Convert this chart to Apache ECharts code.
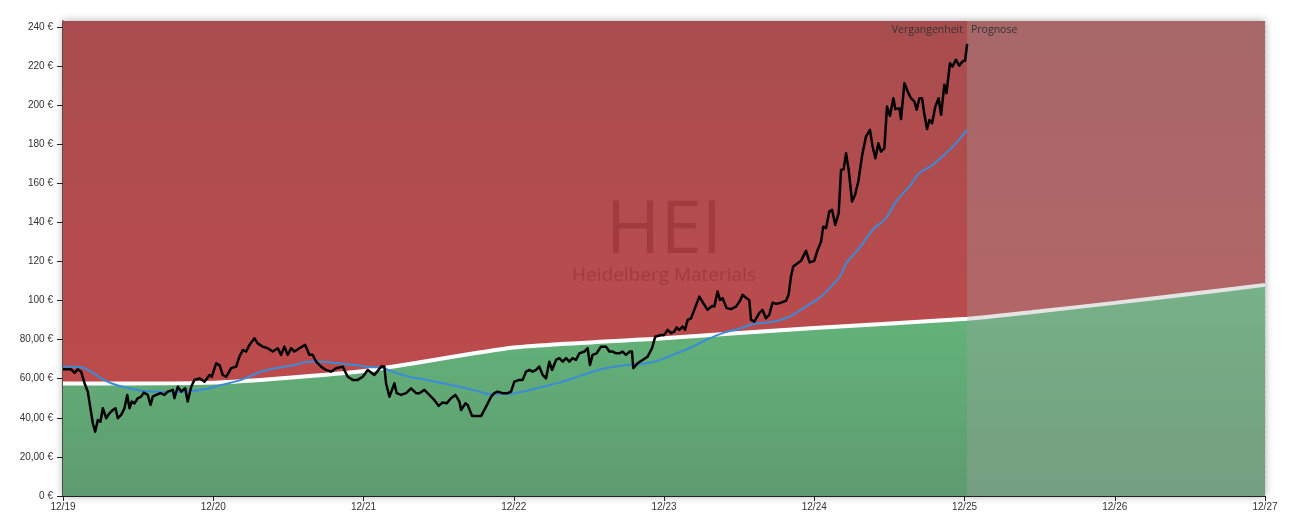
<!DOCTYPE html>
<html>
<head>
<meta charset="utf-8">
<script src="https://cdn.jsdelivr.net/npm/echarts@6/dist/echarts.min.js"></script>
<style>html,body{margin:0;padding:0;background:#fff}#c{width:1294px;height:520px}</style>
</head>
<body>
<div id="c"></div>
<script>
// x values: months since 12/19
var xTickLabels = ['12/19','12/20','12/21','12/22','12/23','12/24','12/25','12/26','12/27'];
var yTickLabels = ['0 €','20,00 €','40,00 €','60,00 €','80,00 €','100 €','120 €','140 €','160 €','180 €','200 €','220 €','240 €'];
var yMax = 243;
var forecastStart = 72.2;
var xMax = 96;

var price = [
[0,64.8],[0.65,64.8],[0.92,63],[1.18,64.8],[1.45,63.6],[1.72,57.7],[1.98,53.4],[2.17,45.7],[2.38,37.2],[2.57,32.9],
[2.78,38.9],[2.99,38],[3.18,44.9],[3.45,39.8],[3.71,42.3],[3.98,44],[4.19,44.9],[4.38,39.8],[4.65,41.5],[4.91,44.9],
[5.13,51.7],[5.31,44.9],[5.49,48.3],[5.71,47.4],[5.97,50],[6.24,50.8],[6.45,52.9],[6.77,51.7],[6.99,46.6],[7.17,50.8],
[7.44,51.7],[7.78,52.6],[8.10,51.7],[8.37,53.4],[8.77,54.3],[8.90,50],[9.17,55.9],[9.44,53.4],[9.76,55.1],[9.96,48.3],
[10.24,55.9],[10.50,59.4],[10.90,60.2],[11.30,58.5],[11.70,61.9],[11.88,61],[12.23,67.9],[12.50,67],[12.76,61.9],[13.03,61],
[13.43,65.4],[13.83,66.2],[14.09,71.3],[14.36,74.7],[14.63,73.9],[14.89,77.3],[15.29,80.7],[15.55,78.1],[15.95,76.4],[16.35,75.6],
[16.75,73.9],[17.15,75.6],[17.42,72.2],[17.68,76.4],[17.95,72.2],[18.22,75.6],[18.48,73.9],[18.88,75.6],[19.34,77.3],[19.68,72.2],
[19.94,72.2],[20.22,68.7],[20.61,66.2],[21.01,64.5],[21.41,63.6],[21.81,65.4],[22.34,66.2],[22.74,61],[23.14,59.4],[23.54,59.4],
[23.94,61],[24.34,64.5],[24.87,61.9],[25.41,66.2],[25.67,66.2],[25.80,57.7],[26.07,50.8],[26.47,57.7],[26.65,52.6],[27.00,51.7],
[27.40,52.6],[27.80,55.1],[28.20,52.6],[28.46,52.6],[28.86,54.3],[29.26,51.7],[29.66,49.1],[30.00,46.1],[30.32,47.8],[30.64,47.4],
[30.99,50],[31.34,51.7],[31.66,48.3],[31.79,44],[32.14,47.4],[32.32,46.6],[32.67,40.9],[32.99,40.9],[33.39,40.9],[33.79,45.7],
[34.19,50.8],[34.45,52.6],[34.71,53.4],[35.11,52.6],[35.51,52.6],[35.78,53.4],[36.05,58.5],[36.45,59.4],[36.71,59.4],[36.98,63.6],
[37.25,64.5],[37.51,63.6],[37.78,64.5],[38.04,66.2],[38.31,61.9],[38.58,60.2],[38.84,68.7],[39.06,64.5],[39.38,69.6],[39.64,70.5],
[39.91,68.7],[40.18,70.5],[40.44,68.7],[40.70,70.5],[40.97,69.6],[41.24,73],[41.64,73.9],[41.90,75.6],[42.09,67],[42.30,72.2],
[42.62,73],[42.97,76.4],[43.37,76.4],[43.63,73.9],[43.90,73.9],[44.17,73],[44.43,73],[44.69,73.9],[44.96,72.2],[45.28,73.9],
[45.44,73.9],[45.55,65.4],[45.89,67.9],[46.29,69.6],[46.69,71.3],[47.04,75.6],[47.30,81.5],[47.76,82.4],[48.02,82.4],[48.29,85],
[48.56,83.3],[48.82,84.1],[49.01,86.3],[49.22,85],[49.48,86.7],[49.68,85],[49.89,90.1],[50.16,90.9],[50.42,95.2],[50.82,102],
[51.14,98.6],[51.48,95.2],[51.83,97.2],[52.02,96.9],[52.28,104.6],[52.47,100.3],[52.68,101.2],[53.00,96.1],[53.35,95.6],[53.75,96.9],
[54.07,99.9],[54.28,102.9],[54.60,101.2],[54.81,100.3],[54.95,90.1],[55.21,89.2],[55.61,93.5],[55.87,95.2],[56.14,90.9],[56.40,92.6],
[56.67,98.9],[56.94,98.3],[57.34,98.9],[57.74,99.8],[57.95,102.9],[58.14,112.2],[58.32,117.4],[58.67,119.1],[58.94,120.3],[59.34,125.5],
[59.63,119.5],[60.00,120.3],[60.27,125.9],[60.54,130],[60.72,137.8],[60.94,137],[61.20,145.5],[61.42,146.4],[61.68,138.7],[61.95,144.7],
[62.14,166.8],[62.35,167.2],[62.54,175.4],[62.75,166.8],[63.02,150.6],[63.26,154.1],[63.52,160.9],[63.81,173.7],[64.13,183.9],[64.45,187.3],
[64.66,178.8],[64.88,172.8],[65.12,180.5],[65.33,176.2],[65.60,178],[65.81,199.2],[66.05,194.5],[66.32,203.5],[66.48,197.9],[66.80,198.4],
[66.93,192.8],[67.20,211.2],[67.46,206.9],[67.73,203.5],[68.00,201.8],[68.18,197.6],[68.40,203.5],[68.61,203.5],[68.80,195],[69.01,187.7],
[69.20,192.4],[69.41,190.7],[69.67,199.2],[69.93,203.5],[70.13,195],[70.39,210.4],[70.56,206.1],[70.84,221.4],[71.04,219.7],[71.31,223.2],
[71.58,220.1],[71.84,222.3],[72.05,222.8],[72.21,231.3]
];

var movingAvg = [
[0,66.2],[1.45,65.9],[2.25,63.6],[3.05,60.2],[3.85,57.7],[4.91,55.6],[6.24,53.9],[7.31,53.4],[8.64,53.1],[9.96,53.4],
[11.30,54.6],[12.63,56.8],[14.23,59.4],[15.82,63.6],[17.42,65.9],[18.48,67],[19.55,68.7],[20.61,68.7],[21.94,67.9],[23.27,67],
[24.61,65.9],[25.53,65.6],[26.33,63.6],[27.66,61],[29.00,59.4],[30.32,57.7],[31.66,55.9],[32.99,53.9],[34.05,52.2],[35.38,52.2],
[36.98,53.7],[38.31,55.9],[39.64,58],[40.97,60.7],[42.30,63.6],[43.63,65.7],[44.96,67],[46.29,67.6],[47.30,68.8],[48.68,72.2],
[50.01,75.6],[51.35,79.8],[52.68,83.3],[54.01,85.6],[55.07,87.9],[56.67,89.1],[58.00,91.6],[59.34,97],[60.40,101.2],[61.47,108],
[62.14,113.1],[62.54,119],[63.60,126.8],[64.66,136.1],[65.73,142.1],[66.53,150.6],[67.59,158.3],[68.40,165.2],[69.46,169.4],[70.53,175.4],
[71.33,180.5],[72.21,187.3]
];

var fairValue = [
[0,57.5],[12,58],[24,64],[36,76],[48,80.7],[60,86],[72.2,90.7],[78,94.5],[84,98.8],[90,103.3],[96,108]
];

var chart = echarts.init(document.getElementById('c'), null, {renderer:'canvas'});
var labelFont = 'Liberation Sans, Arial, sans-serif';
var uiFont = '"Open Sans", "Noto Sans", sans-serif';
var option = {
  animation: false,
  grid: {left: 63, right: 29, top: 21, bottom: 24, show: true, backgroundColor: '#fff', borderWidth: 0,
         shadowBlur: 8, shadowColor: 'rgba(0,0,0,0.35)'},
  xAxis: {
    type: 'value', min: 0, max: xMax, interval: 12,
    axisLine: {show: true, lineStyle: {color: '#222', width: 1}},
    axisTick: {show: true, length: 5, lineStyle: {color: '#222'}},
    axisLabel: {color: '#333', fontSize: 10, fontFamily: labelFont, margin: 6,
      formatter: function(v){ return xTickLabels[Math.round(v/12)] || ''; }},
    splitLine: {show: true, lineStyle: {color: 'rgba(0,0,0,0.08)', type: [2,3]}}
  },
  yAxis: {
    type: 'value', min: 0, max: yMax, interval: 20,
    axisLine: {show: true, lineStyle: {color: '#222', width: 1.5}},
    axisTick: {show: true, length: 6, lineStyle: {color: '#222'}},
    axisLabel: {color: '#333', fontSize: 10, fontFamily: labelFont, margin: 10, showMaxLabel: false,
      formatter: function(v){ return (v % 20 === 0) ? (yTickLabels[v/20] || '') : ''; }},
    splitLine: {show: true, lineStyle: {color: 'rgba(0,0,0,0.07)', type: [2,3]}}
  },
  graphic: [
    {type: 'text', x: 664, y: 232, z: 3, silent: true,
     style: {text: 'HEI', font: '74px ' + uiFont, fill: 'rgba(120,20,30,0.3)', textAlign: 'center', textVerticalAlign: 'middle'}},
    {type: 'text', x: 664, y: 276, z: 3, silent: true,
     style: {text: 'Heidelberg Materials', font: '19px ' + uiFont, fill: 'rgba(120,20,30,0.3)', textAlign: 'center', textVerticalAlign: 'middle'}}
  ],
  series: [
    {
      name: 'bg', type: 'line', silent: true, z: 1, showSymbol: false,
      data: [[0, yMax], [xMax, yMax]],
      lineStyle: {width: 0},
      areaStyle: {opacity: 1, color: {type: 'linear', x: 0, y: 0, x2: 0, y2: 1,
        colorStops: [{offset: 0, color: '#a84d4f'}, {offset: 1, color: '#c34a4b'}]}}
    },
    {
      name: 'Fairer Wert', type: 'line', silent: true, z: 2, showSymbol: false,
      data: fairValue, smooth: 0.2,
      lineStyle: {color: '#ffffff', width: 4},
      areaStyle: {opacity: 1, color: {type: 'linear', x: 0, y: 0, x2: 0, y2: 1,
        colorStops: [{offset: 0, color: '#63b77b'}, {offset: 1, color: '#5f9b70'}]}}
    },
    {
      name: 'Prognose', type: 'line', silent: true, z: 4, showSymbol: false,
      data: [[forecastStart, yMax], [xMax, yMax]],
      lineStyle: {width: 0},
      areaStyle: {opacity: 1, color: 'rgba(165,165,165,0.3)'}
    },
    {
      name: 'GD200', type: 'line', z: 5, showSymbol: false, smooth: 0.3,
      data: movingAvg,
      lineStyle: {color: '#3a8bd8', width: 2}
    },
    {
      name: 'Kurs', type: 'line', z: 6, showSymbol: false,
      data: price,
      lineStyle: {color: '#000', width: 2.5, join: 'round'},
      markArea: {
        silent: true,
        z: 10,
        itemStyle: {color: 'rgba(0,0,0,0)'},
        data: [
          [{xAxis: 0, yAxis: 0,
            label: {show: true, position: 'insideTopRight', formatter: 'Vergangenheit', color: '#333', fontSize: 10.5, fontFamily: uiFont, distance: 4}},
           {xAxis: forecastStart, yAxis: yMax}],
          [{xAxis: forecastStart, yAxis: 0,
            label: {show: true, position: 'insideTopLeft', formatter: 'Prognose', color: '#333', fontSize: 10.5, fontFamily: uiFont, distance: 4}},
           {xAxis: xMax, yAxis: yMax}]
        ]
      }
    }
  ]
};
chart.setOption(option);
</script>
</body>
</html>
